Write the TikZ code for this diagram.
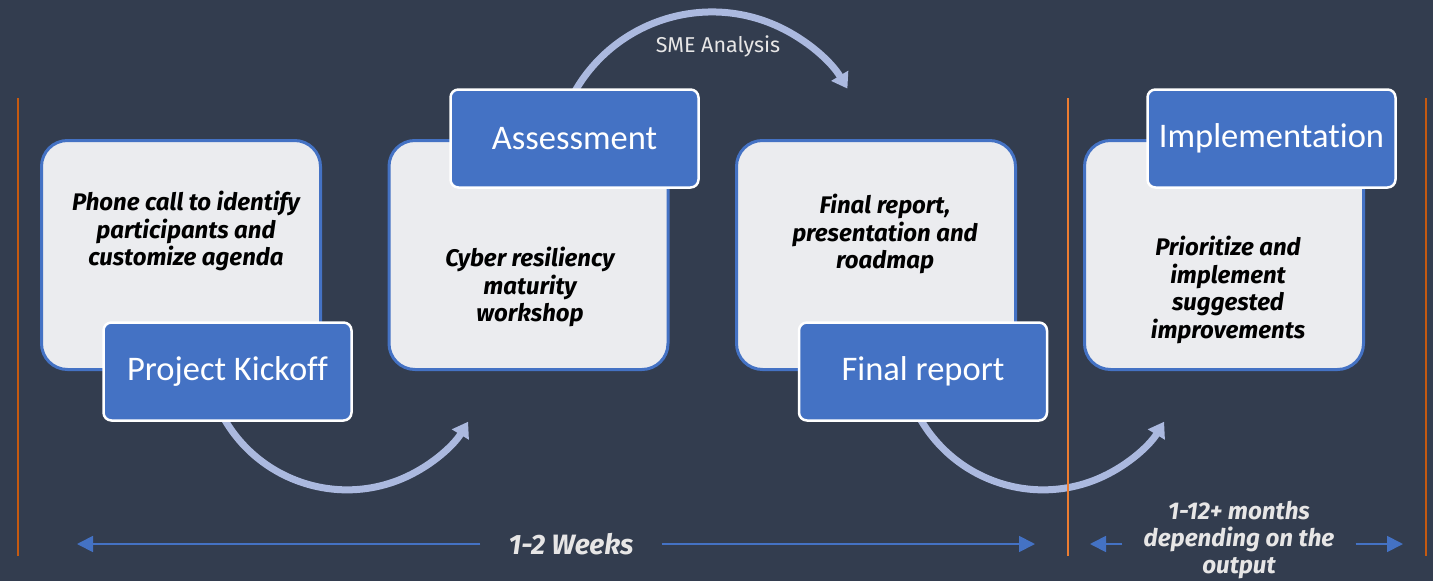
\documentclass[tikz,border=0pt]{standalone}
\usepackage{fontspec}
\setmainfont{Fira Sans}
\newfontfamily\labelfont[Ligatures=NoCommon]{Carlito}
\usetikzlibrary{arrows.meta}
\definecolor{bgc}{HTML}{333D4F}
\definecolor{blu}{HTML}{4472C4}
\definecolor{boxfill}{HTML}{EBECEF}
\definecolor{arcc}{HTML}{ABB9DF}
\definecolor{orangeA}{HTML}{C55A11}
\definecolor{orangeB}{HTML}{ED7D31}
\definecolor{lighttext}{HTML}{E7E6E6}
\pgfdeclarelayer{bg}
\pgfdeclarelayer{arcs}
\pgfsetlayers{bg,arcs,main}
\begin{document}
\begin{tikzpicture}[x=1pt,y=-1pt,
  stepbox/.style={draw=blu, line width=3pt, fill=boxfill, rounded corners=26pt,
    minimum width=279pt, minimum height=229pt, inner sep=0pt},
  labelbox/.style={draw=white, line width=2.5pt, fill=blu, rounded corners=8pt,
    minimum width=248pt, minimum height=98pt, inner sep=0pt, text=white,
    font=\labelfont\fontsize{34.5}{40}\selectfont},
  bodytext/.style={align=center, text=black, inner sep=0pt,
    font=\fontsize{24}{27.5}\selectfont\bfseries\itshape},
  flow/.style={draw=arcc, line width=7pt, -{Triangle[length=15pt,width=19pt]}},
  dimarrow/.style={draw=blu, line width=1.8pt, -{Triangle[length=16pt,width=16pt]}},
  dimtext/.style={align=center, text=lighttext, inner ysep=0pt,
    font=\fontsize{24.2}{27}\selectfont\bfseries\itshape},
  sepline/.style={line width=2pt}
]
\useasboundingbox (0,0) rectangle (1433,581);
\begin{pgfonlayer}{bg}
  \fill[bgc] (0,0) rectangle (1433,581);
\end{pgfonlayer}

% arc start coordinates (hidden under label boxes)
\coordinate (a1s) at (218.6,408);
\coordinate (a2s) at (914.6,408);
\coordinate (a3s) at (568.8,103.2);
\begin{pgfonlayer}{arcs}
  \draw[flow] (a1s) arc[start angle=205, end angle=328.7, radius=141.7pt];
  \draw[flow] (a2s) arc[start angle=205, end angle=328.7, radius=141.7pt];
  \draw[flow] (a3s) arc[start angle=155, end angle=31, radius=158pt];
\end{pgfonlayer}

% separators
\draw[sepline, orangeA] (18,98) -- (18,556);
\draw[sepline, orangeB] (1068,98) -- (1068,556);
\draw[sepline, orangeA] (1426,98) -- (1426,556);

% step boxes
\node[stepbox] (b1) at (181,255) {};
\node[stepbox] (b2) at (528.5,255) {};
\node[stepbox] (b3) at (876,255) {};
\node[stepbox] (b4) at (1224,255) {};

\node[bodytext] (t1) at (186,231) {Phone call to identify\\participants and\\customize agenda};
\node[bodytext] (t2) at (530,287) {Cyber resiliency\\maturity\\workshop};
\node[bodytext] (t3) at (885,234) {Final report,\\presentation and\\roadmap};
\node[bodytext] (t4) at (1228,290) {Prioritize and\\implement\\suggested\\improvements};

% labels
\node[labelbox] (l1) at (227.5,371.5) {Project Kickoff};
\node[labelbox] (l2) at (574.5,138.5) {Assessment};
\node[labelbox] (l3) at (923,371.5) {Final report};
\node[labelbox] (l4) at (1271.5,138.5) {Implementation};

\node[text=lighttext, font=\fontsize{21.5}{24}\selectfont] (sme) at (718,46) {SME Analysis};

% duration
\node[dimtext, font=\fontsize{28}{30}\selectfont\bfseries\itshape, inner xsep=28pt] (wk) at (571,544) {1-2 Weeks};
\coordinate (wkL) at (77,544);
\coordinate (wkR) at (1035,544);
\draw[dimarrow] (wk.west) -- (wkL);
\draw[dimarrow] (wk.east) -- (wkR);

\node[dimtext, inner xsep=21pt] (mo) at (1239,540) {1-12+ months\\depending on the\\output};
\coordinate (moL) at (1090,544);
\coordinate (moR) at (1403,544);
\draw[dimarrow] (mo.west |- moL) -- (moL);
\draw[dimarrow] (mo.east |- moR) -- (moR);
\end{tikzpicture}
\end{document}
